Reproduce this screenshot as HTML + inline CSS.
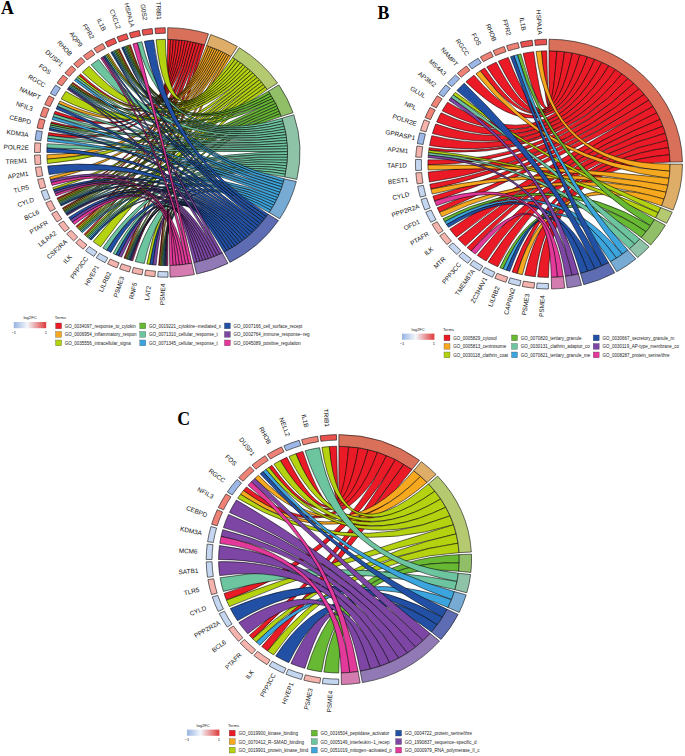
<!DOCTYPE html>
<html><head><meta charset="utf-8"><style>
html,body{margin:0;padding:0;background:#fff;width:685px;height:756px;overflow:hidden}
svg{display:block}
</style></head><body>
<svg width="685" height="756" viewBox="0 0 685 756">
<rect width="685" height="756" fill="#fff"/>
<g stroke="#000" stroke-width="0.55" stroke-linejoin="round">
<path fill="#EA1B26" d="M129.15 45.12A120.4 113.15 0 0 1 130.42 44.73Q167.25 152.45 167.67 39.3A120.4 113.15 0 0 1 170.56 39.34Q167.25 152.45 129.15 45.12Z"/>
<path fill="#EA1B26" d="M118.1 49.16A120.4 113.15 0 0 1 119.32 48.65Q167.25 152.45 170.56 39.34A120.4 113.15 0 0 1 173.45 39.45Q167.25 152.45 118.1 49.16Z"/>
<path fill="#EA1B26" d="M78.98 75.5A120.4 113.15 0 0 1 80.58 73.9Q167.25 152.45 173.45 39.45A120.4 113.15 0 0 1 176.34 39.62Q167.25 152.45 78.98 75.5Z"/>
<path fill="#EA1B26" d="M71.96 83.28A120.4 113.15 0 0 1 72.78 82.3Q167.25 152.45 176.34 39.62A120.4 113.15 0 0 1 179.22 39.86Q167.25 152.45 71.96 83.28Z"/>
<path fill="#EA1B26" d="M54.04 113.94A120.4 113.15 0 0 1 55.13 111.2Q167.25 152.45 179.22 39.86A120.4 113.15 0 0 1 182.1 40.17Q167.25 152.45 54.04 113.94Z"/>
<path fill="#EA1B26" d="M50.87 123.45A120.4 113.15 0 0 1 51.36 121.76Q167.25 152.45 182.1 40.17A120.4 113.15 0 0 1 184.97 40.53Q167.25 152.45 50.87 123.45Z"/>
<path fill="#EA1B26" d="M48.2 135.51A120.4 113.15 0 0 1 48.71 132.62Q167.25 152.45 184.97 40.53A120.4 113.15 0 0 1 187.82 40.97Q167.25 152.45 48.2 135.51Z"/>
<path fill="#EA1B26" d="M57.61 199.21A120.4 113.15 0 0 1 57.07 198.07Q167.25 152.45 187.82 40.97A120.4 113.15 0 0 1 190.67 41.46Q167.25 152.45 57.61 199.21Z"/>
<path fill="#EA1B26" d="M62.95 208.99A120.4 113.15 0 0 1 62.38 208.03Q167.25 152.45 190.67 41.46A120.4 113.15 0 0 1 193.5 42.02Q167.25 152.45 62.95 208.99Z"/>
<path fill="#EA1B26" d="M77.01 227.36A120.4 113.15 0 0 1 75.98 226.25Q167.25 152.45 193.5 42.02A120.4 113.15 0 0 1 196.32 42.65Q167.25 152.45 77.01 227.36Z"/>
<path fill="#EA1B26" d="M85.29 235.33A120.4 113.15 0 0 1 84.15 234.33Q167.25 152.45 196.32 42.65A120.4 113.15 0 0 1 199.11 43.34Q167.25 152.45 85.29 235.33Z"/>
<path fill="#EA1B26" d="M125.07 258.43A120.4 113.15 0 0 1 123.98 258.04Q167.25 152.45 199.11 43.34A120.4 113.15 0 0 1 201.9 44.09Q167.25 152.45 125.07 258.43Z"/>
<path fill="#EA1B26" d="M159.75 265.38A120.4 113.15 0 0 1 158.58 265.3Q167.25 152.45 201.9 44.09A120.4 113.15 0 0 1 204.66 44.9Q167.25 152.45 159.75 265.38Z"/>
<path fill="#F6A81F" d="M127.89 45.52A120.4 113.15 0 0 1 129.15 45.12Q167.25 152.45 206.65 45.53A120.4 113.15 0 0 1 208.76 46.24Q167.25 152.45 127.89 45.52Z"/>
<path fill="#F6A81F" d="M116.88 49.68A120.4 113.15 0 0 1 118.1 49.16Q167.25 152.45 208.76 46.24A120.4 113.15 0 0 1 210.86 46.98Q167.25 152.45 116.88 49.68Z"/>
<path fill="#F6A81F" d="M107.33 54.31A120.4 113.15 0 0 1 108.69 53.59Q167.25 152.45 210.86 46.98A120.4 113.15 0 0 1 212.94 47.76Q167.25 152.45 107.33 54.31Z"/>
<path fill="#F6A81F" d="M71.15 84.28A120.4 113.15 0 0 1 71.96 83.28Q167.25 152.45 212.94 47.76A120.4 113.15 0 0 1 215 48.58Q167.25 152.45 71.15 84.28Z"/>
<path fill="#F6A81F" d="M58.62 103.66A120.4 113.15 0 0 1 60 101.03Q167.25 152.45 215 48.58A120.4 113.15 0 0 1 217.05 49.43Q167.25 152.45 58.62 103.66Z"/>
<path fill="#F6A81F" d="M47.06 159.2A120.4 113.15 0 0 1 46.87 154.81Q167.25 152.45 217.05 49.43A120.4 113.15 0 0 1 219.09 50.32Q167.25 152.45 47.06 159.2Z"/>
<path fill="#F6A81F" d="M50.41 179.76A120.4 113.15 0 0 1 49.69 176.92Q167.25 152.45 219.09 50.32A120.4 113.15 0 0 1 221.1 51.25Q167.25 152.45 50.41 179.76Z"/>
<path fill="#F6A81F" d="M58.17 200.35A120.4 113.15 0 0 1 57.61 199.21Q167.25 152.45 221.1 51.25A120.4 113.15 0 0 1 223.09 52.21Q167.25 152.45 58.17 200.35Z"/>
<path fill="#F6A81F" d="M63.54 209.93A120.4 113.15 0 0 1 62.95 208.99Q167.25 152.45 223.09 52.21A120.4 113.15 0 0 1 225.07 53.2Q167.25 152.45 63.54 209.93Z"/>
<path fill="#F6A81F" d="M78.05 228.45A120.4 113.15 0 0 1 77.01 227.36Q167.25 152.45 225.07 53.2A120.4 113.15 0 0 1 227.03 54.23Q167.25 152.45 78.05 228.45Z"/>
<path fill="#F6A81F" d="M126.17 258.81A120.4 113.15 0 0 1 125.07 258.43Q167.25 152.45 227.03 54.23A120.4 113.15 0 0 1 228.96 55.29Q167.25 152.45 126.17 258.81Z"/>
<path fill="#F6A81F" d="M160.91 265.44A120.4 113.15 0 0 1 159.75 265.38Q167.25 152.45 228.96 55.29A120.4 113.15 0 0 1 230.88 56.39Q167.25 152.45 160.91 265.44Z"/>
<path fill="#B4D20F" d="M156.08 39.79A120.4 113.15 0 0 1 165.41 39.32Q167.25 152.45 232.65 57.45A120.4 113.15 0 0 1 235.37 59.15Q167.25 152.45 156.08 39.79Z"/>
<path fill="#B4D20F" d="M126.63 45.94A120.4 113.15 0 0 1 127.89 45.52Q167.25 152.45 235.37 59.15A120.4 113.15 0 0 1 238.03 60.92Q167.25 152.45 126.63 45.94Z"/>
<path fill="#B4D20F" d="M115.68 50.21A120.4 113.15 0 0 1 116.88 49.68Q167.25 152.45 238.03 60.92A120.4 113.15 0 0 1 240.65 62.76Q167.25 152.45 115.68 50.21Z"/>
<path fill="#B4D20F" d="M105.99 55.04A120.4 113.15 0 0 1 107.33 54.31Q167.25 152.45 240.65 62.76A120.4 113.15 0 0 1 243.21 64.66Q167.25 152.45 105.99 55.04Z"/>
<path fill="#B4D20F" d="M82.35 72.22A120.4 113.15 0 0 1 89.23 66.27Q167.25 152.45 243.21 64.66A120.4 113.15 0 0 1 245.71 66.63Q167.25 152.45 82.35 72.22Z"/>
<path fill="#B4D20F" d="M77.41 77.12A120.4 113.15 0 0 1 78.98 75.5Q167.25 152.45 245.71 66.63A120.4 113.15 0 0 1 248.16 68.66Q167.25 152.45 77.41 77.12Z"/>
<path fill="#B4D20F" d="M61.16 98.93A120.4 113.15 0 0 1 65.9 91.37Q167.25 152.45 248.16 68.66A120.4 113.15 0 0 1 250.55 70.75Q167.25 152.45 61.16 98.93Z"/>
<path fill="#B4D20F" d="M47.43 163.57A120.4 113.15 0 0 1 47.06 159.2Q167.25 152.45 250.55 70.75A120.4 113.15 0 0 1 252.87 72.9Q167.25 152.45 47.43 163.57Z"/>
<path fill="#B4D20F" d="M53.57 189.74A120.4 113.15 0 0 1 52.83 187.66Q167.25 152.45 252.87 72.9A120.4 113.15 0 0 1 255.14 75.11Q167.25 152.45 53.57 189.74Z"/>
<path fill="#B4D20F" d="M58.74 201.49A120.4 113.15 0 0 1 58.17 200.35Q167.25 152.45 255.14 75.11A120.4 113.15 0 0 1 257.33 77.38Q167.25 152.45 58.74 201.49Z"/>
<path fill="#B4D20F" d="M64.14 210.88A120.4 113.15 0 0 1 63.54 209.93Q167.25 152.45 257.33 77.38A120.4 113.15 0 0 1 259.47 79.7Q167.25 152.45 64.14 210.88Z"/>
<path fill="#B4D20F" d="M79.1 229.52A120.4 113.15 0 0 1 78.05 228.45Q167.25 152.45 259.47 79.7A120.4 113.15 0 0 1 261.53 82.08Q167.25 152.45 79.1 229.52Z"/>
<path fill="#B4D20F" d="M86.43 236.32A120.4 113.15 0 0 1 85.29 235.33Q167.25 152.45 261.53 82.08A120.4 113.15 0 0 1 263.53 84.5Q167.25 152.45 86.43 236.32Z"/>
<path fill="#B4D20F" d="M100.7 246.75A120.4 113.15 0 0 1 93.13 241.62Q167.25 152.45 263.53 84.5A120.4 113.15 0 0 1 265.45 86.98Q167.25 152.45 100.7 246.75Z"/>
<path fill="#B4D20F" d="M149.89 264.42A120.4 113.15 0 0 1 146.81 263.96Q167.25 152.45 265.45 86.98A120.4 113.15 0 0 1 267.3 89.51Q167.25 152.45 149.89 264.42Z"/>
<path fill="#67B833" d="M125.37 46.37A120.4 113.15 0 0 1 126.63 45.94Q167.25 152.45 268.46 91.16A120.4 113.15 0 0 1 270.04 93.53Q167.25 152.45 125.37 46.37Z"/>
<path fill="#67B833" d="M114.47 50.75A120.4 113.15 0 0 1 115.68 50.21Q167.25 152.45 270.04 93.53A120.4 113.15 0 0 1 271.57 95.94Q167.25 152.45 114.47 50.75Z"/>
<path fill="#67B833" d="M70.35 85.29A120.4 113.15 0 0 1 71.15 84.28Q167.25 152.45 271.57 95.94A120.4 113.15 0 0 1 273.02 98.39Q167.25 152.45 70.35 85.29Z"/>
<path fill="#67B833" d="M50.4 125.15A120.4 113.15 0 0 1 50.87 123.45Q167.25 152.45 273.02 98.39A120.4 113.15 0 0 1 274.42 100.87Q167.25 152.45 50.4 125.15Z"/>
<path fill="#67B833" d="M59.33 202.61A120.4 113.15 0 0 1 58.74 201.49Q167.25 152.45 274.42 100.87A120.4 113.15 0 0 1 275.74 103.38Q167.25 152.45 59.33 202.61Z"/>
<path fill="#67B833" d="M64.75 211.81A120.4 113.15 0 0 1 64.14 210.88Q167.25 152.45 275.74 103.38A120.4 113.15 0 0 1 277 105.92Q167.25 152.45 64.75 211.81Z"/>
<path fill="#67B833" d="M80.17 230.59A120.4 113.15 0 0 1 79.1 229.52Q167.25 152.45 277 105.92A120.4 113.15 0 0 1 278.2 108.49Q167.25 152.45 80.17 230.59Z"/>
<path fill="#67B833" d="M87.59 237.3A120.4 113.15 0 0 1 86.43 236.32Q167.25 152.45 278.2 108.49A120.4 113.15 0 0 1 279.32 111.09Q167.25 152.45 87.59 237.3Z"/>
<path fill="#67B833" d="M127.27 259.18A120.4 113.15 0 0 1 126.17 258.81Q167.25 152.45 279.32 111.09A120.4 113.15 0 0 1 280.38 113.71Q167.25 152.45 127.27 259.18Z"/>
<path fill="#67B833" d="M162.08 265.49A120.4 113.15 0 0 1 160.91 265.44Q167.25 152.45 280.38 113.71A120.4 113.15 0 0 1 281.37 116.36Q167.25 152.45 162.08 265.49Z"/>
<path fill="#6DC5A0" d="M137.33 42.85A120.4 113.15 0 0 1 141.87 41.84Q167.25 152.45 282.02 118.24A120.4 113.15 0 0 1 282.89 120.95Q167.25 152.45 137.33 42.85Z"/>
<path fill="#6DC5A0" d="M124.13 46.81A120.4 113.15 0 0 1 125.37 46.37Q167.25 152.45 282.89 120.95A120.4 113.15 0 0 1 283.7 123.67Q167.25 152.45 124.13 46.81Z"/>
<path fill="#6DC5A0" d="M113.28 51.31A120.4 113.15 0 0 1 114.47 50.75Q167.25 152.45 283.7 123.67A120.4 113.15 0 0 1 284.42 126.42Q167.25 152.45 113.28 51.31Z"/>
<path fill="#6DC5A0" d="M104.65 55.8A120.4 113.15 0 0 1 105.99 55.04Q167.25 152.45 284.42 126.42A120.4 113.15 0 0 1 285.08 129.18Q167.25 152.45 104.65 55.8Z"/>
<path fill="#6DC5A0" d="M91.16 64.76A120.4 113.15 0 0 1 98.62 59.48Q167.25 152.45 285.08 129.18A120.4 113.15 0 0 1 285.66 131.96Q167.25 152.45 91.16 64.76Z"/>
<path fill="#6DC5A0" d="M75.87 78.77A120.4 113.15 0 0 1 77.41 77.12Q167.25 152.45 285.66 131.96A120.4 113.15 0 0 1 286.17 134.75Q167.25 152.45 75.87 78.77Z"/>
<path fill="#6DC5A0" d="M69.57 86.3A120.4 113.15 0 0 1 70.35 85.29Q167.25 152.45 286.17 134.75A120.4 113.15 0 0 1 286.61 137.55Q167.25 152.45 69.57 86.3Z"/>
<path fill="#6DC5A0" d="M57.31 106.31A120.4 113.15 0 0 1 58.62 103.66Q167.25 152.45 286.61 137.55A120.4 113.15 0 0 1 286.97 140.36Q167.25 152.45 57.31 106.31Z"/>
<path fill="#6DC5A0" d="M53.01 116.7A120.4 113.15 0 0 1 54.04 113.94Q167.25 152.45 286.97 140.36A120.4 113.15 0 0 1 287.25 143.18Q167.25 152.45 53.01 116.7Z"/>
<path fill="#6DC5A0" d="M49.97 126.86A120.4 113.15 0 0 1 50.4 125.15Q167.25 152.45 287.25 143.18A120.4 113.15 0 0 1 287.46 146Q167.25 152.45 49.97 126.86Z"/>
<path fill="#6DC5A0" d="M47.78 138.41A120.4 113.15 0 0 1 48.2 135.51Q167.25 152.45 287.46 146A120.4 113.15 0 0 1 287.59 148.83Q167.25 152.45 47.78 138.41Z"/>
<path fill="#6DC5A0" d="M46.94 148.06A120.4 113.15 0 0 1 47.21 143.68Q167.25 152.45 287.59 148.83A120.4 113.15 0 0 1 287.65 151.66Q167.25 152.45 46.94 148.06Z"/>
<path fill="#6DC5A0" d="M59.92 203.73A120.4 113.15 0 0 1 59.33 202.61Q167.25 152.45 287.65 151.66A120.4 113.15 0 0 1 287.63 154.49Q167.25 152.45 59.92 203.73Z"/>
<path fill="#6DC5A0" d="M65.37 212.75A120.4 113.15 0 0 1 64.75 211.81Q167.25 152.45 287.63 154.49A120.4 113.15 0 0 1 287.54 157.32Q167.25 152.45 65.37 212.75Z"/>
<path fill="#6DC5A0" d="M81.25 231.64A120.4 113.15 0 0 1 80.17 230.59Q167.25 152.45 287.54 157.32A120.4 113.15 0 0 1 287.38 160.15Q167.25 152.45 81.25 231.64Z"/>
<path fill="#6DC5A0" d="M88.77 238.26A120.4 113.15 0 0 1 87.59 237.3Q167.25 152.45 287.38 160.15A120.4 113.15 0 0 1 287.13 162.97Q167.25 152.45 88.77 238.26Z"/>
<path fill="#6DC5A0" d="M106.81 250.31A120.4 113.15 0 0 1 102.82 248.03Q167.25 152.45 287.13 162.97A120.4 113.15 0 0 1 286.82 165.78Q167.25 152.45 106.81 250.31Z"/>
<path fill="#6DC5A0" d="M115.94 254.81A120.4 113.15 0 0 1 113.14 253.53Q167.25 152.45 286.82 165.78A120.4 113.15 0 0 1 286.42 168.59Q167.25 152.45 115.94 254.81Z"/>
<path fill="#6DC5A0" d="M128.37 259.54A120.4 113.15 0 0 1 127.27 259.18Q167.25 152.45 286.42 168.59A120.4 113.15 0 0 1 285.96 171.38Q167.25 152.45 128.37 259.54Z"/>
<path fill="#6DC5A0" d="M144.33 263.53A120.4 113.15 0 0 1 135.24 261.53Q167.25 152.45 285.96 171.38A120.4 113.15 0 0 1 285.42 174.17Q167.25 152.45 144.33 263.53Z"/>
<path fill="#6DC5A0" d="M163.25 265.54A120.4 113.15 0 0 1 162.08 265.49Q167.25 152.45 285.42 174.17A120.4 113.15 0 0 1 284.8 176.94Q167.25 152.45 163.25 265.54Z"/>
<path fill="#3DA5DD" d="M122.88 47.26A120.4 113.15 0 0 1 124.13 46.81Q167.25 152.45 284.33 178.86A120.4 113.15 0 0 1 283.59 181.6Q167.25 152.45 122.88 47.26Z"/>
<path fill="#3DA5DD" d="M112.09 51.88A120.4 113.15 0 0 1 113.28 51.31Q167.25 152.45 283.59 181.6A120.4 113.15 0 0 1 282.78 184.32Q167.25 152.45 112.09 51.88Z"/>
<path fill="#3DA5DD" d="M74.37 80.45A120.4 113.15 0 0 1 75.87 78.77Q167.25 152.45 282.78 184.32A120.4 113.15 0 0 1 281.9 187.02Q167.25 152.45 74.37 80.45Z"/>
<path fill="#3DA5DD" d="M68.79 87.32A120.4 113.15 0 0 1 69.57 86.3Q167.25 152.45 281.9 187.02A120.4 113.15 0 0 1 280.94 189.7Q167.25 152.45 68.79 87.32Z"/>
<path fill="#3DA5DD" d="M52.07 119.49A120.4 113.15 0 0 1 53.01 116.7Q167.25 152.45 280.94 189.7A120.4 113.15 0 0 1 279.92 192.36Q167.25 152.45 52.07 119.49Z"/>
<path fill="#3DA5DD" d="M49.56 128.57A120.4 113.15 0 0 1 49.97 126.86Q167.25 152.45 279.92 192.36A120.4 113.15 0 0 1 278.82 194.99Q167.25 152.45 49.56 128.57Z"/>
<path fill="#3DA5DD" d="M47.43 141.32A120.4 113.15 0 0 1 47.78 138.41Q167.25 152.45 278.82 194.99A120.4 113.15 0 0 1 277.66 197.6Q167.25 152.45 47.43 141.32Z"/>
<path fill="#3DA5DD" d="M60.54 204.85A120.4 113.15 0 0 1 59.92 203.73Q167.25 152.45 277.66 197.6A120.4 113.15 0 0 1 276.42 200.17Q167.25 152.45 60.54 204.85Z"/>
<path fill="#3DA5DD" d="M65.99 213.67A120.4 113.15 0 0 1 65.37 212.75Q167.25 152.45 276.42 200.17A120.4 113.15 0 0 1 275.12 202.72Q167.25 152.45 65.99 213.67Z"/>
<path fill="#3DA5DD" d="M82.35 232.68A120.4 113.15 0 0 1 81.25 231.64Q167.25 152.45 275.12 202.72A120.4 113.15 0 0 1 273.75 205.23Q167.25 152.45 82.35 232.68Z"/>
<path fill="#3DA5DD" d="M89.95 239.2A120.4 113.15 0 0 1 88.77 238.26Q167.25 152.45 273.75 205.23A120.4 113.15 0 0 1 272.31 207.72Q167.25 152.45 89.95 239.2Z"/>
<path fill="#3DA5DD" d="M129.48 259.89A120.4 113.15 0 0 1 128.37 259.54Q167.25 152.45 272.31 207.72A120.4 113.15 0 0 1 270.81 210.16Q167.25 152.45 129.48 259.89Z"/>
<path fill="#3DA5DD" d="M164.41 265.57A120.4 113.15 0 0 1 163.25 265.54Q167.25 152.45 270.81 210.16A120.4 113.15 0 0 1 269.25 212.58Q167.25 152.45 164.41 265.57Z"/>
<path fill="#2150A5" d="M144.34 41.37A120.4 113.15 0 0 1 153.57 40.03Q167.25 152.45 268.11 214.24A120.4 113.15 0 0 1 266.35 216.72Q167.25 152.45 144.34 41.37Z"/>
<path fill="#2150A5" d="M121.64 47.73A120.4 113.15 0 0 1 122.88 47.26Q167.25 152.45 266.35 216.72A120.4 113.15 0 0 1 264.51 219.15Q167.25 152.45 121.64 47.73Z"/>
<path fill="#2150A5" d="M110.9 52.46A120.4 113.15 0 0 1 112.09 51.88Q167.25 152.45 264.51 219.15A120.4 113.15 0 0 1 262.6 221.54Q167.25 152.45 110.9 52.46Z"/>
<path fill="#2150A5" d="M103.33 56.56A120.4 113.15 0 0 1 104.65 55.8Q167.25 152.45 262.6 221.54A120.4 113.15 0 0 1 260.63 223.87Q167.25 152.45 103.33 56.56Z"/>
<path fill="#2150A5" d="M68.03 88.35A120.4 113.15 0 0 1 68.79 87.32Q167.25 152.45 260.63 223.87A120.4 113.15 0 0 1 258.6 226.16Q167.25 152.45 68.03 88.35Z"/>
<path fill="#2150A5" d="M56.08 109A120.4 113.15 0 0 1 57.31 106.31Q167.25 152.45 258.6 226.16A120.4 113.15 0 0 1 256.5 228.4Q167.25 152.45 56.08 109Z"/>
<path fill="#2150A5" d="M49.18 130.29A120.4 113.15 0 0 1 49.56 128.57Q167.25 152.45 256.5 228.4A120.4 113.15 0 0 1 254.34 230.58Q167.25 152.45 49.18 130.29Z"/>
<path fill="#2150A5" d="M46.85 152.45A120.4 113.15 0 0 1 46.94 148.06Q167.25 152.45 254.34 230.58A120.4 113.15 0 0 1 252.11 232.71Q167.25 152.45 46.85 152.45Z"/>
<path fill="#2150A5" d="M49.17 174.6A120.4 113.15 0 0 1 47.7 165.93Q167.25 152.45 252.11 232.71A120.4 113.15 0 0 1 249.83 234.79Q167.25 152.45 49.17 174.6Z"/>
<path fill="#2150A5" d="M54.36 191.81A120.4 113.15 0 0 1 53.57 189.74Q167.25 152.45 249.83 234.79A120.4 113.15 0 0 1 247.5 236.81Q167.25 152.45 54.36 191.81Z"/>
<path fill="#2150A5" d="M61.16 205.96A120.4 113.15 0 0 1 60.54 204.85Q167.25 152.45 247.5 236.81A120.4 113.15 0 0 1 245.1 238.76Q167.25 152.45 61.16 205.96Z"/>
<path fill="#2150A5" d="M66.63 214.59A120.4 113.15 0 0 1 65.99 213.67Q167.25 152.45 245.1 238.76A120.4 113.15 0 0 1 242.65 240.66Q167.25 152.45 66.63 214.59Z"/>
<path fill="#2150A5" d="M70.52 219.83A120.4 113.15 0 0 1 68.7 217.46Q167.25 152.45 242.65 240.66A120.4 113.15 0 0 1 240.15 242.5Q167.25 152.45 70.52 219.83Z"/>
<path fill="#2150A5" d="M91.16 240.14A120.4 113.15 0 0 1 89.95 239.2Q167.25 152.45 240.15 242.5A120.4 113.15 0 0 1 237.6 244.28Q167.25 152.45 91.16 240.14Z"/>
<path fill="#2150A5" d="M110.9 252.44A120.4 113.15 0 0 1 106.81 250.31Q167.25 152.45 237.6 244.28A120.4 113.15 0 0 1 235 245.99Q167.25 152.45 110.9 252.44Z"/>
<path fill="#2150A5" d="M118.77 256.02A120.4 113.15 0 0 1 115.94 254.81Q167.25 152.45 235 245.99A120.4 113.15 0 0 1 232.35 247.63Q167.25 152.45 118.77 256.02Z"/>
<path fill="#2150A5" d="M130.59 260.22A120.4 113.15 0 0 1 129.48 259.89Q167.25 152.45 232.35 247.63A120.4 113.15 0 0 1 229.66 249.21Q167.25 152.45 130.59 260.22Z"/>
<path fill="#2150A5" d="M152.97 264.8A120.4 113.15 0 0 1 149.89 264.42Q167.25 152.45 229.66 249.21A120.4 113.15 0 0 1 226.92 250.72Q167.25 152.45 152.97 264.8Z"/>
<path fill="#2150A5" d="M165.58 265.59A120.4 113.15 0 0 1 164.41 265.57Q167.25 152.45 226.92 250.72A120.4 113.15 0 0 1 224.15 252.17Q167.25 152.45 165.58 265.59Z"/>
<path fill="#7D46A5" d="M102.01 57.35A120.4 113.15 0 0 1 103.33 56.56Q167.25 152.45 222.29 253.09A120.4 113.15 0 0 1 219.58 254.35Q167.25 152.45 102.01 57.35Z"/>
<path fill="#7D46A5" d="M67.28 89.39A120.4 113.15 0 0 1 68.03 88.35Q167.25 152.45 219.58 254.35A120.4 113.15 0 0 1 216.84 255.56Q167.25 152.45 67.28 89.39Z"/>
<path fill="#7D46A5" d="M51.2 182.59A120.4 113.15 0 0 1 50.41 179.76Q167.25 152.45 216.84 255.56A120.4 113.15 0 0 1 214.06 256.7Q167.25 152.45 51.2 182.59Z"/>
<path fill="#7D46A5" d="M55.2 193.86A120.4 113.15 0 0 1 54.36 191.81Q167.25 152.45 214.06 256.7A120.4 113.15 0 0 1 211.26 257.77Q167.25 152.45 55.2 193.86Z"/>
<path fill="#7D46A5" d="M67.27 215.5A120.4 113.15 0 0 1 66.63 214.59Q167.25 152.45 211.26 257.77A120.4 113.15 0 0 1 208.43 258.77Q167.25 152.45 67.27 215.5Z"/>
<path fill="#7D46A5" d="M72.41 222.16A120.4 113.15 0 0 1 70.52 219.83Q167.25 152.45 208.43 258.77A120.4 113.15 0 0 1 205.57 259.71Q167.25 152.45 72.41 222.16Z"/>
<path fill="#7D46A5" d="M121.63 257.16A120.4 113.15 0 0 1 118.77 256.02Q167.25 152.45 205.57 259.71A120.4 113.15 0 0 1 202.69 260.58Q167.25 152.45 121.63 257.16Z"/>
<path fill="#7D46A5" d="M131.7 260.55A120.4 113.15 0 0 1 130.59 260.22Q167.25 152.45 202.69 260.58A120.4 113.15 0 0 1 199.79 261.39Q167.25 152.45 131.7 260.55Z"/>
<path fill="#7D46A5" d="M156.07 265.11A120.4 113.15 0 0 1 152.97 264.8Q167.25 152.45 199.79 261.39A120.4 113.15 0 0 1 196.87 262.12Q167.25 152.45 156.07 265.11Z"/>
<path fill="#7D46A5" d="M166.75 265.6A120.4 113.15 0 0 1 165.58 265.59Q167.25 152.45 196.87 262.12A120.4 113.15 0 0 1 193.93 262.79Q167.25 152.45 166.75 265.6Z"/>
<path fill="#E2399A" d="M132.83 44.02A120.4 113.15 0 0 1 137.33 42.85Q167.25 152.45 191.87 263.21A120.4 113.15 0 0 1 188.75 263.78Q167.25 152.45 132.83 44.02Z"/>
<path fill="#E2399A" d="M100.71 58.15A120.4 113.15 0 0 1 102.01 57.35Q167.25 152.45 188.75 263.78A120.4 113.15 0 0 1 185.61 264.27Q167.25 152.45 100.71 58.15Z"/>
<path fill="#E2399A" d="M52.07 185.4A120.4 113.15 0 0 1 51.2 182.59Q167.25 152.45 185.61 264.27A120.4 113.15 0 0 1 182.46 264.69Q167.25 152.45 52.07 185.4Z"/>
<path fill="#E2399A" d="M56.07 195.89A120.4 113.15 0 0 1 55.2 193.86Q167.25 152.45 182.46 264.69A120.4 113.15 0 0 1 179.3 265.03Q167.25 152.45 56.07 195.89Z"/>
<path fill="#E2399A" d="M74.36 224.44A120.4 113.15 0 0 1 72.41 222.16Q167.25 152.45 179.3 265.03A120.4 113.15 0 0 1 176.13 265.29Q167.25 152.45 74.36 224.44Z"/>
<path fill="#E2399A" d="M132.82 260.87A120.4 113.15 0 0 1 131.7 260.55Q167.25 152.45 176.13 265.29A120.4 113.15 0 0 1 172.95 265.47Q167.25 152.45 132.82 260.87Z"/>
<path fill="#E2399A" d="M167.92 265.6A120.4 113.15 0 0 1 166.75 265.6Q167.25 152.45 172.95 265.47A120.4 113.15 0 0 1 169.77 265.57Q167.25 152.45 167.92 265.6Z"/>
</g>
<g stroke="#111" stroke-width="0.6">
<path fill="#D9705A" d="M167.71 27.7A132.75 124.75 0 0 1 208.49 33.87L204.66 44.9A120.4 113.15 0 0 0 167.67 39.3Z"/>
<path fill="#DEAE68" d="M210.69 34.57A132.75 124.75 0 0 1 237.4 46.54L230.88 56.39A120.4 113.15 0 0 0 206.65 45.53Z"/>
<path fill="#B5C971" d="M239.36 47.71A132.75 124.75 0 0 1 277.56 83.05L267.3 89.51A120.4 113.15 0 0 0 232.65 57.45Z"/>
<path fill="#90BF68" d="M278.84 84.87A132.75 124.75 0 0 1 293.07 112.66L281.37 116.36A120.4 113.15 0 0 0 268.46 91.16Z"/>
<path fill="#8FC3A7" d="M293.79 114.73A132.75 124.75 0 0 1 296.85 179.45L284.8 176.94A120.4 113.15 0 0 0 282.02 118.24Z"/>
<path fill="#78ABD3" d="M296.33 181.57A132.75 124.75 0 0 1 279.71 218.74L269.25 212.58A120.4 113.15 0 0 0 284.33 178.86Z"/>
<path fill="#5E6DB3" d="M278.46 220.58A132.75 124.75 0 0 1 229.98 262.39L224.15 252.17A120.4 113.15 0 0 0 268.11 214.24Z"/>
<path fill="#9179B6" d="M227.93 263.4A132.75 124.75 0 0 1 196.66 274.1L193.93 262.79A120.4 113.15 0 0 0 222.29 253.09Z"/>
<path fill="#D47CAF" d="M194.4 274.56A132.75 124.75 0 0 1 170.03 277.17L169.77 265.57A120.4 113.15 0 0 0 191.87 263.21Z"/>
<path fill="#E8514E" d="M154.94 28.24A132.75 124.75 0 0 1 165.22 27.71L165.31 33.2A126.91 119.26 0 0 0 155.48 33.7Z"/>
<path fill="#E8514E" d="M141.99 29.98A132.75 124.75 0 0 1 152.17 28.51L152.83 33.96A126.91 119.26 0 0 0 143.11 35.37Z"/>
<path fill="#E8514E" d="M129.3 32.91A132.75 124.75 0 0 1 139.27 30.5L140.5 35.87A126.91 119.26 0 0 0 130.97 38.17Z"/>
<path fill="#E8514E" d="M116.97 37A132.75 124.75 0 0 1 126.64 33.68L128.43 38.91A126.91 119.26 0 0 0 119.18 42.08Z"/>
<path fill="#E8514E" d="M105.13 42.2A132.75 124.75 0 0 1 114.41 38.01L116.73 43.05A126.91 119.26 0 0 0 107.86 47.05Z"/>
<path fill="#EE8276" d="M93.89 48.48A132.75 124.75 0 0 1 102.68 43.45L105.52 48.25A126.91 119.26 0 0 0 97.12 53.05Z"/>
<path fill="#EE8276" d="M83.36 55.77A132.75 124.75 0 0 1 91.59 49.95L94.92 54.46A126.91 119.26 0 0 0 87.05 60.02Z"/>
<path fill="#EE8276" d="M73.65 63.99A132.75 124.75 0 0 1 81.23 57.44L85.01 61.62A126.91 119.26 0 0 0 77.77 67.88Z"/>
<path fill="#EE8276" d="M64.84 73.07A132.75 124.75 0 0 1 71.7 65.85L75.9 69.66A126.91 119.26 0 0 0 69.35 76.56Z"/>
<path fill="#EE8276" d="M57.03 82.92A132.75 124.75 0 0 1 63.1 75.1L67.68 78.51A126.91 119.26 0 0 0 61.88 85.98Z"/>
<path fill="#9DB8E6" d="M50.29 93.45A132.75 124.75 0 0 1 55.51 85.11L60.42 88.07A126.91 119.26 0 0 0 55.43 96.04Z"/>
<path fill="#EE8276" d="M44.68 104.54A132.75 124.75 0 0 1 49 95.76L54.2 98.26A126.91 119.26 0 0 0 50.07 106.65Z"/>
<path fill="#EE8276" d="M40.26 116.11A132.75 124.75 0 0 1 43.64 106.97L49.08 108.97A126.91 119.26 0 0 0 45.85 117.71Z"/>
<path fill="#EE8276" d="M37.07 128.02A132.75 124.75 0 0 1 39.48 118.61L45.1 120.1A126.91 119.26 0 0 0 42.8 129.1Z"/>
<path fill="#9DB8E6" d="M35.14 140.17A132.75 124.75 0 0 1 36.55 130.59L42.3 131.55A126.91 119.26 0 0 0 40.96 140.71Z"/>
<path fill="#F4B3AC" d="M34.5 152.44A132.75 124.75 0 0 1 34.9 142.78L40.72 143.2A126.91 119.26 0 0 0 40.34 152.44Z"/>
<path fill="#F4B3AC" d="M35.14 164.72A132.75 124.75 0 0 1 34.53 155.06L40.37 154.94A126.91 119.26 0 0 0 40.96 164.18Z"/>
<path fill="#F4B3AC" d="M37.07 176.87A132.75 124.75 0 0 1 35.45 167.31L41.24 166.66A126.91 119.26 0 0 0 42.8 175.79Z"/>
<path fill="#F4B3AC" d="M40.25 188.78A132.75 124.75 0 0 1 37.64 179.42L43.34 178.24A126.91 119.26 0 0 0 45.84 187.18Z"/>
<path fill="#C4D6F0" d="M44.67 200.35A132.75 124.75 0 0 1 41.09 191.27L46.64 189.57A126.91 119.26 0 0 0 50.07 198.24Z"/>
<path fill="#F4B3AC" d="M50.28 211.44A132.75 124.75 0 0 1 45.77 202.75L51.11 200.53A126.91 119.26 0 0 0 55.43 208.85Z"/>
<path fill="#F4B3AC" d="M57.02 221.97A132.75 124.75 0 0 1 51.62 213.73L56.71 211.04A126.91 119.26 0 0 0 61.87 218.91Z"/>
<path fill="#F4B3AC" d="M64.84 231.82A132.75 124.75 0 0 1 58.6 224.12L63.38 220.97A126.91 119.26 0 0 0 69.34 228.33Z"/>
<path fill="#F4B3AC" d="M73.64 240.9A132.75 124.75 0 0 1 66.63 233.82L71.05 230.24A126.91 119.26 0 0 0 77.76 237.01Z"/>
<path fill="#F4B3AC" d="M83.35 249.13A132.75 124.75 0 0 1 75.63 242.73L79.66 238.75A126.91 119.26 0 0 0 87.04 244.87Z"/>
<path fill="#C4D6F0" d="M93.88 256.41A132.75 124.75 0 0 1 85.53 250.76L89.12 246.43A126.91 119.26 0 0 0 97.11 251.84Z"/>
<path fill="#C4D6F0" d="M105.12 262.69A132.75 124.75 0 0 1 96.21 257.84L99.34 253.2A126.91 119.26 0 0 0 107.85 257.84Z"/>
<path fill="#F4B3AC" d="M116.96 267.9A132.75 124.75 0 0 1 107.59 263.89L110.21 258.99A126.91 119.26 0 0 0 119.17 262.82Z"/>
<path fill="#F4B3AC" d="M129.29 271.99A132.75 124.75 0 0 1 119.54 268.87L121.64 263.74A126.91 119.26 0 0 0 130.96 266.73Z"/>
<path fill="#F4B3AC" d="M141.98 274.92A132.75 124.75 0 0 1 131.96 272.71L133.51 267.42A126.91 119.26 0 0 0 143.09 269.53Z"/>
<path fill="#F4B3AC" d="M154.92 276.66A132.75 124.75 0 0 1 144.72 275.39L145.71 269.98A126.91 119.26 0 0 0 155.47 271.2Z"/>
<path fill="#C4D6F0" d="M167.99 277.2A132.75 124.75 0 0 1 157.7 276.88L158.12 271.4A126.91 119.26 0 0 0 167.95 271.71Z"/>
</g>
<g font-family="Liberation Sans, sans-serif" font-size="6.4" fill="#111" text-anchor="middle">
<text transform="translate(159.08 10.69) rotate(86.9)" dy="0.4em">TRIB1</text>
<text transform="translate(144.28 12.13) rotate(81.25)" dy="0.4em">G0S2</text>
<text transform="translate(129.71 14.94) rotate(75.61)" dy="0.4em">HSPA1A</text>
<text transform="translate(115.49 19.08) rotate(69.96)" dy="0.4em">CXCL2</text>
<text transform="translate(101.78 24.51) rotate(64.32)" dy="0.4em">IL1B</text>
<text transform="translate(88.71 31.18) rotate(58.67)" dy="0.4em">FPR2</text>
<text transform="translate(76.4 39.03) rotate(53.03)" dy="0.4em">AQP9</text>
<text transform="translate(64.97 47.97) rotate(47.38)" dy="0.4em">RHOB</text>
<text transform="translate(54.53 57.94) rotate(41.74)" dy="0.4em">DUSP1</text>
<text transform="translate(45.18 68.81) rotate(36.09)" dy="0.4em">FOS</text>
<text transform="translate(37.02 80.5) rotate(30.45)" dy="0.4em">RGCC</text>
<text transform="translate(30.12 92.89) rotate(24.8)" dy="0.4em">NAMPT</text>
<text transform="translate(24.55 105.86) rotate(19.16)" dy="0.4em">NFIL3</text>
<text transform="translate(20.36 119.27) rotate(13.51)" dy="0.4em">CEBPD</text>
<text transform="translate(17.6 133.01) rotate(7.87)" dy="0.4em">KDM3A</text>
<text transform="translate(16.29 146.94) rotate(2.22)" dy="0.4em">POLR2E</text>
<text transform="translate(16.45 160.92) rotate(-3.42)" dy="0.4em">TREM1</text>
<text transform="translate(18.07 174.82) rotate(-9.06)" dy="0.4em">AP2M1</text>
<text transform="translate(21.13 188.5) rotate(-14.71)" dy="0.4em">TLR5</text>
<text transform="translate(25.61 201.83) rotate(-20.36)" dy="0.4em">CYLD</text>
<text transform="translate(31.47 214.68) rotate(-26)" dy="0.4em">BCL6</text>
<text transform="translate(38.64 226.93) rotate(-31.65)" dy="0.4em">PTAFR</text>
<text transform="translate(47.06 238.46) rotate(-37.29)" dy="0.4em">LILRA2</text>
<text transform="translate(56.65 249.15) rotate(-42.94)" dy="0.4em">CSF2RA</text>
<text transform="translate(67.31 258.91) rotate(-48.58)" dy="0.4em">ILK</text>
<text transform="translate(78.93 267.63) rotate(-54.23)" dy="0.4em">PPP3CC</text>
<text transform="translate(91.42 275.23) rotate(-59.87)" dy="0.4em">HIVEP1</text>
<text transform="translate(104.64 281.65) rotate(-65.52)" dy="0.4em">LILRB2</text>
<text transform="translate(118.47 286.81) rotate(-71.16)" dy="0.4em">PSME3</text>
<text transform="translate(132.77 290.67) rotate(-76.81)" dy="0.4em">RNF5</text>
<text transform="translate(147.4 293.18) rotate(-82.45)" dy="0.4em">LAT2</text>
<text transform="translate(162.23 294.34) rotate(-88.09)" dy="0.4em">PSME4</text>
</g>
<g stroke="#000" stroke-width="0.55" stroke-linejoin="round">
<path fill="#EA1B26" d="M541.4 51.04A121.08 113.28 0 0 1 546.78 50.83Q549 164.1 549 50.82A121.08 113.28 0 0 1 556.83 51.05Q549 164.1 541.4 51.04Z"/>
<path fill="#EA1B26" d="M523.1 53.44A121.08 113.28 0 0 1 533.72 51.72Q549 164.1 556.83 51.05A121.08 113.28 0 0 1 564.63 51.76Q549 164.1 523.1 53.44Z"/>
<path fill="#EA1B26" d="M498.31 61.22A121.08 113.28 0 0 1 508.28 57.41Q549 164.1 564.63 51.76A121.08 113.28 0 0 1 572.36 52.94Q549 164.1 498.31 61.22Z"/>
<path fill="#EA1B26" d="M486.73 66.95A121.08 113.28 0 0 1 496.21 62.15Q549 164.1 572.36 52.94A121.08 113.28 0 0 1 580 54.59Q549 164.1 486.73 66.95Z"/>
<path fill="#EA1B26" d="M480.24 70.85A121.08 113.28 0 0 1 484.75 68.08Q549 164.1 580 54.59A121.08 113.28 0 0 1 587.5 56.7Q549 164.1 480.24 70.85Z"/>
<path fill="#EA1B26" d="M465.88 81.72A121.08 113.28 0 0 1 474.04 75.14Q549 164.1 587.5 56.7A121.08 113.28 0 0 1 594.85 59.25Q549 164.1 465.88 81.72Z"/>
<path fill="#EA1B26" d="M442.14 110.83A121.08 113.28 0 0 1 447.62 102.15Q549 164.1 594.85 59.25A121.08 113.28 0 0 1 602 62.24Q549 164.1 442.14 110.83Z"/>
<path fill="#EA1B26" d="M436.61 121.94A121.08 113.28 0 0 1 441.06 112.76Q549 164.1 602 62.24A121.08 113.28 0 0 1 608.93 65.67Q549 164.1 436.61 121.94Z"/>
<path fill="#EA1B26" d="M432.4 133.54A121.08 113.28 0 0 1 435.77 123.96Q549 164.1 608.93 65.67A121.08 113.28 0 0 1 615.61 69.5Q549 164.1 432.4 133.54Z"/>
<path fill="#EA1B26" d="M429.56 145.5A121.08 113.28 0 0 1 431.8 135.64Q549 164.1 615.61 69.5A121.08 113.28 0 0 1 622.01 73.73Q549 164.1 429.56 145.5Z"/>
<path fill="#EA1B26" d="M428.84 150.15A121.08 113.28 0 0 1 429.2 147.65Q549 164.1 622.01 73.73A121.08 113.28 0 0 1 628.11 78.33Q549 164.1 428.84 150.15Z"/>
<path fill="#EA1B26" d="M427.92 164.89A121.08 113.28 0 0 1 428 159.85Q549 164.1 628.11 78.33A121.08 113.28 0 0 1 633.87 83.3Q549 164.1 427.92 164.89Z"/>
<path fill="#EA1B26" d="M429.46 182.11A121.08 113.28 0 0 1 428.22 172.1Q549 164.1 633.87 83.3A121.08 113.28 0 0 1 639.28 88.6Q549 164.1 429.46 182.11Z"/>
<path fill="#EA1B26" d="M430.92 189.2A121.08 113.28 0 0 1 429.85 184.26Q549 164.1 639.28 88.6A121.08 113.28 0 0 1 644.31 94.23Q549 164.1 430.92 189.2Z"/>
<path fill="#EA1B26" d="M434.51 200.98A121.08 113.28 0 0 1 432.87 196.18Q549 164.1 644.31 94.23A121.08 113.28 0 0 1 648.94 100.14Q549 164.1 434.51 200.98Z"/>
<path fill="#EA1B26" d="M439.44 212.33A121.08 113.28 0 0 1 437.25 207.73Q549 164.1 648.94 100.14A121.08 113.28 0 0 1 653.15 106.32Q549 164.1 439.44 212.33Z"/>
<path fill="#EA1B26" d="M456.45 237.14A121.08 113.28 0 0 1 449.87 229.16Q549 164.1 653.15 106.32A121.08 113.28 0 0 1 656.93 112.74Q549 164.1 456.45 237.14Z"/>
<path fill="#EA1B26" d="M465.42 246.07A121.08 113.28 0 0 1 457.96 238.79Q549 164.1 656.93 112.74A121.08 113.28 0 0 1 660.25 119.38Q549 164.1 465.42 246.07Z"/>
<path fill="#EA1B26" d="M471.17 250.88A121.08 113.28 0 0 1 467.12 247.56Q549 164.1 660.25 119.38A121.08 113.28 0 0 1 663.11 126.21Q549 164.1 471.17 250.88Z"/>
<path fill="#EA1B26" d="M486.18 260.95A121.08 113.28 0 0 1 477.23 255.34Q549 164.1 663.11 126.21A121.08 113.28 0 0 1 665.49 133.19Q549 164.1 486.18 260.95Z"/>
<path fill="#EA1B26" d="M497.73 266.73A121.08 113.28 0 0 1 488.18 262.06Q549 164.1 665.49 133.19A121.08 113.28 0 0 1 667.38 140.31Q549 164.1 497.73 266.73Z"/>
<path fill="#EA1B26" d="M517.25 273.42A121.08 113.28 0 0 1 512.09 271.99Q549 164.1 667.38 140.31A121.08 113.28 0 0 1 668.78 147.52Q549 164.1 517.25 273.42Z"/>
<path fill="#EA1B26" d="M535.4 276.67A121.08 113.28 0 0 1 524.76 275.09Q549 164.1 668.78 147.52A121.08 113.28 0 0 1 669.68 154.8Q549 164.1 535.4 276.67Z"/>
<path fill="#EA1B26" d="M548.47 277.38A121.08 113.28 0 0 1 537.71 276.89Q549 164.1 669.68 154.8A121.08 113.28 0 0 1 670.07 162.12Q549 164.1 548.47 277.38Z"/>
<path fill="#F6A81F" d="M536.03 51.47A121.08 113.28 0 0 1 541.4 51.04Q549 164.1 670.08 164.1A121.08 113.28 0 0 1 669.85 171.21Q549 164.1 536.03 51.47Z"/>
<path fill="#F6A81F" d="M475.88 73.81A121.08 113.28 0 0 1 480.24 70.85Q549 164.1 669.85 171.21A121.08 113.28 0 0 1 669.13 178.3Q549 164.1 475.88 73.81Z"/>
<path fill="#F6A81F" d="M428.08 169.93A121.08 113.28 0 0 1 427.92 164.89Q549 164.1 669.13 178.3A121.08 113.28 0 0 1 667.94 185.33Q549 164.1 428.08 169.93Z"/>
<path fill="#F6A81F" d="M432.23 194.09A121.08 113.28 0 0 1 430.92 189.2Q549 164.1 667.94 185.33A121.08 113.28 0 0 1 666.28 192.27Q549 164.1 432.23 194.09Z"/>
<path fill="#F6A81F" d="M441.84 216.85A121.08 113.28 0 0 1 439.44 212.33Q549 164.1 666.28 192.27A121.08 113.28 0 0 1 664.16 199.11Q549 164.1 441.84 216.85Z"/>
<path fill="#F6A81F" d="M522.48 274.63A121.08 113.28 0 0 1 517.25 273.42Q549 164.1 664.16 199.11A121.08 113.28 0 0 1 661.58 205.8Q549 164.1 522.48 274.63Z"/>
<path fill="#B4D20F" d="M453.13 94.9A121.08 113.28 0 0 1 455.37 92.27Q549 164.1 660.79 207.63A121.08 113.28 0 0 1 658.33 212.78Q549 164.1 453.13 94.9Z"/>
<path fill="#B4D20F" d="M428.54 152.65A121.08 113.28 0 0 1 428.84 150.15Q549 164.1 658.33 212.78A121.08 113.28 0 0 1 655.61 217.81Q549 164.1 428.54 152.65Z"/>
<path fill="#67B833" d="M517.35 54.75A121.08 113.28 0 0 1 520.84 53.92Q549 164.1 654.59 219.54A121.08 113.28 0 0 1 650.55 225.8Q549 164.1 517.35 54.75Z"/>
<path fill="#67B833" d="M444.72 221.68A121.08 113.28 0 0 1 442.94 218.76Q549 164.1 650.55 225.8A121.08 113.28 0 0 1 646.08 231.8Q549 164.1 444.72 221.68Z"/>
<path fill="#67B833" d="M503.15 268.95A121.08 113.28 0 0 1 499.85 267.63Q549 164.1 646.08 231.8A121.08 113.28 0 0 1 641.21 237.52Q549 164.1 503.15 268.95Z"/>
<path fill="#6DC5A0" d="M450.98 97.59A121.08 113.28 0 0 1 453.13 94.9Q549 164.1 639.83 239.02A121.08 113.28 0 0 1 634.77 244.06Q549 164.1 450.98 97.59Z"/>
<path fill="#6DC5A0" d="M428.29 155.16A121.08 113.28 0 0 1 428.54 152.65Q549 164.1 634.77 244.06A121.08 113.28 0 0 1 629.39 248.81Q549 164.1 428.29 155.16Z"/>
<path fill="#3DA5DD" d="M513.9 55.68A121.08 113.28 0 0 1 517.35 54.75Q549 164.1 627.8 250.11A121.08 113.28 0 0 1 622.26 254.29Q549 164.1 513.9 55.68Z"/>
<path fill="#3DA5DD" d="M446.6 224.55A121.08 113.28 0 0 1 444.72 221.68Q549 164.1 622.26 254.29A121.08 113.28 0 0 1 616.48 258.16Q549 164.1 446.6 224.55Z"/>
<path fill="#3DA5DD" d="M506.5 270.18A121.08 113.28 0 0 1 503.15 268.95Q549 164.1 616.48 258.16A121.08 113.28 0 0 1 610.46 261.71Q549 164.1 506.5 270.18Z"/>
<path fill="#2150A5" d="M510.48 56.7A121.08 113.28 0 0 1 513.9 55.68Q549 164.1 608.62 262.7A121.08 113.28 0 0 1 601.89 266.01Q549 164.1 510.48 56.7Z"/>
<path fill="#2150A5" d="M456.86 90.6A121.08 113.28 0 0 1 464.21 83.23Q549 164.1 601.89 266.01A121.08 113.28 0 0 1 594.95 268.91Q549 164.1 456.86 90.6Z"/>
<path fill="#2150A5" d="M448.56 227.37A121.08 113.28 0 0 1 446.6 224.55Q549 164.1 594.95 268.91A121.08 113.28 0 0 1 587.82 271.4Q549 164.1 448.56 227.37Z"/>
<path fill="#2150A5" d="M509.88 271.31A121.08 113.28 0 0 1 506.5 270.18Q549 164.1 587.82 271.4A121.08 113.28 0 0 1 580.54 273.47Q549 164.1 509.88 271.31Z"/>
<path fill="#7D46A5" d="M448.91 100.34A121.08 113.28 0 0 1 450.98 97.59Q549 164.1 578.5 273.97A121.08 113.28 0 0 1 572 275.32Q549 164.1 448.91 100.34Z"/>
<path fill="#7D46A5" d="M428.11 157.68A121.08 113.28 0 0 1 428.29 155.16Q549 164.1 572 275.32A121.08 113.28 0 0 1 565.43 276.34Q549 164.1 428.11 157.68Z"/>
<path fill="#E2399A" d="M436.38 205.71A121.08 113.28 0 0 1 434.51 200.98Q549 164.1 563.34 276.59A121.08 113.28 0 0 1 557.34 277.12Q549 164.1 436.38 205.71Z"/>
<path fill="#E2399A" d="M475.37 254.03A121.08 113.28 0 0 1 471.17 250.88Q549 164.1 557.34 277.12A121.08 113.28 0 0 1 551.32 277.36Q549 164.1 475.37 254.03Z"/>
</g>
<g stroke="#111" stroke-width="0.6">
<path fill="#D9705A" d="M549 39.2A133.5 124.9 0 0 1 682.48 161.92L670.07 162.12A121.08 113.28 0 0 0 549 50.82Z"/>
<path fill="#DEAE68" d="M682.5 164.1A133.5 124.9 0 0 1 673.13 210.08L661.58 205.8A121.08 113.28 0 0 0 670.08 164.1Z"/>
<path fill="#B5C971" d="M672.25 212.1A133.5 124.9 0 0 1 666.54 223.31L655.61 217.81A121.08 113.28 0 0 0 660.79 207.63Z"/>
<path fill="#90BF68" d="M665.42 225.22A133.5 124.9 0 0 1 650.67 245.05L641.21 237.52A121.08 113.28 0 0 0 654.59 219.54Z"/>
<path fill="#8FC3A7" d="M649.14 246.7A133.5 124.9 0 0 1 637.63 257.5L629.39 248.81A121.08 113.28 0 0 0 639.83 239.02Z"/>
<path fill="#78ABD3" d="M635.88 258.93A133.5 124.9 0 0 1 616.76 271.72L610.46 261.71A121.08 113.28 0 0 0 627.8 250.11Z"/>
<path fill="#5E6DB3" d="M614.74 272.81A133.5 124.9 0 0 1 583.78 284.69L580.54 273.47A121.08 113.28 0 0 0 608.62 262.7Z"/>
<path fill="#9179B6" d="M581.52 285.24A133.5 124.9 0 0 1 567.12 287.84L565.43 276.34A121.08 113.28 0 0 0 578.5 273.97Z"/>
<path fill="#D47CAF" d="M564.81 288.12A133.5 124.9 0 0 1 551.56 288.98L551.32 277.36A121.08 113.28 0 0 0 563.34 276.59Z"/>
<path fill="#E8514E" d="M534.7 39.92A133.5 124.9 0 0 1 546.55 39.22L546.66 44.72A127.63 119.4 0 0 0 535.33 45.38Z"/>
<path fill="#E8514E" d="M520.45 42.09A133.5 124.9 0 0 1 532.15 40.2L532.89 45.65A127.63 119.4 0 0 0 521.7 47.46Z"/>
<path fill="#EE8276" d="M506.53 45.69A133.5 124.9 0 0 1 517.95 42.63L519.31 47.97A127.63 119.4 0 0 0 508.4 50.9Z"/>
<path fill="#EE8276" d="M493.11 50.67A133.5 124.9 0 0 1 504.11 46.47L506.08 51.65A127.63 119.4 0 0 0 495.57 55.66Z"/>
<path fill="#EE8276" d="M480.34 56.98A133.5 124.9 0 0 1 490.79 51.7L493.35 56.64A127.63 119.4 0 0 0 483.36 61.7Z"/>
<path fill="#9DB8E6" d="M468.38 64.55A133.5 124.9 0 0 1 478.16 58.24L481.27 62.89A127.63 119.4 0 0 0 471.93 68.93Z"/>
<path fill="#EE8276" d="M457.36 73.28A133.5 124.9 0 0 1 466.35 66.01L469.99 70.33A127.63 119.4 0 0 0 461.39 77.27Z"/>
<path fill="#9DB8E6" d="M447.41 83.07A133.5 124.9 0 0 1 455.51 74.94L459.63 78.86A127.63 119.4 0 0 0 451.88 86.63Z"/>
<path fill="#9DB8E6" d="M438.65 93.81A133.5 124.9 0 0 1 445.77 84.91L450.31 88.39A127.63 119.4 0 0 0 443.51 96.9Z"/>
<path fill="#EE8276" d="M431.18 105.37A133.5 124.9 0 0 1 437.23 95.8L442.15 98.81A127.63 119.4 0 0 0 436.37 107.95Z"/>
<path fill="#EE8276" d="M425.09 117.61A133.5 124.9 0 0 1 430 107.49L435.23 109.98A127.63 119.4 0 0 0 430.54 119.66Z"/>
<path fill="#F4B3AC" d="M420.45 130.41A133.5 124.9 0 0 1 424.16 119.85L429.65 121.8A127.63 119.4 0 0 0 426.11 131.89Z"/>
<path fill="#9DB8E6" d="M417.31 143.59A133.5 124.9 0 0 1 419.78 132.72L425.47 134.1A127.63 119.4 0 0 0 423.11 144.5Z"/>
<path fill="#F4B3AC" d="M415.71 157.02A133.5 124.9 0 0 1 416.92 145.96L422.73 146.76A127.63 119.4 0 0 0 421.58 157.33Z"/>
<path fill="#C4D6F0" d="M415.68 170.53A133.5 124.9 0 0 1 415.59 159.41L421.46 159.62A127.63 119.4 0 0 0 421.54 170.25Z"/>
<path fill="#F4B3AC" d="M417.2 183.96A133.5 124.9 0 0 1 415.83 172.92L421.69 172.53A127.63 119.4 0 0 0 423 183.09Z"/>
<path fill="#C4D6F0" d="M420.26 197.16A133.5 124.9 0 0 1 417.63 186.33L423.41 185.35A127.63 119.4 0 0 0 425.93 195.71Z"/>
<path fill="#C4D6F0" d="M424.83 209.98A133.5 124.9 0 0 1 420.96 199.47L426.6 197.91A127.63 119.4 0 0 0 430.3 207.96Z"/>
<path fill="#C4D6F0" d="M430.85 222.26A133.5 124.9 0 0 1 425.8 212.2L431.22 210.08A127.63 119.4 0 0 0 436.05 219.7Z"/>
<path fill="#F4B3AC" d="M438.26 233.85A133.5 124.9 0 0 1 432.07 224.37L437.21 221.71A127.63 119.4 0 0 0 443.13 230.78Z"/>
<path fill="#F4B3AC" d="M446.96 244.63A133.5 124.9 0 0 1 439.71 235.83L444.52 232.67A127.63 119.4 0 0 0 451.45 241.09Z"/>
<path fill="#C4D6F0" d="M456.85 254.47A133.5 124.9 0 0 1 448.63 246.45L453.05 242.83A127.63 119.4 0 0 0 460.91 250.5Z"/>
<path fill="#C4D6F0" d="M467.82 263.26A133.5 124.9 0 0 1 458.72 256.11L462.7 252.06A127.63 119.4 0 0 0 471.39 258.89Z"/>
<path fill="#C4D6F0" d="M479.74 270.88A133.5 124.9 0 0 1 469.87 264.7L473.35 260.27A127.63 119.4 0 0 0 482.79 266.18Z"/>
<path fill="#C4D6F0" d="M492.47 277.25A133.5 124.9 0 0 1 481.95 272.1L484.9 267.35A127.63 119.4 0 0 0 494.96 272.27Z"/>
<path fill="#F4B3AC" d="M505.87 282.3A133.5 124.9 0 0 1 494.81 278.25L497.19 273.22A127.63 119.4 0 0 0 507.77 277.1Z"/>
<path fill="#C4D6F0" d="M519.76 285.97A133.5 124.9 0 0 1 508.3 283.05L510.09 277.82A127.63 119.4 0 0 0 521.05 280.61Z"/>
<path fill="#F4B3AC" d="M534 288.21A133.5 124.9 0 0 1 522.27 286.47L523.45 281.09A127.63 119.4 0 0 0 534.66 282.75Z"/>
<path fill="#C4D6F0" d="M548.42 289A133.5 124.9 0 0 1 536.55 288.46L537.1 282.98A127.63 119.4 0 0 0 548.44 283.5Z"/>
</g>
<g font-family="Liberation Sans, sans-serif" font-size="6.4" fill="#111" text-anchor="middle">
<text transform="translate(539.46 22.24) rotate(86.4)" dy="0.4em">HSPA1A</text>
<text transform="translate(523.14 24.04) rotate(80.2)" dy="0.4em">IL1B</text>
<text transform="translate(507.12 27.47) rotate(74)" dy="0.4em">FPR2</text>
<text transform="translate(491.6 32.5) rotate(67.8)" dy="0.4em">RHOB</text>
<text transform="translate(476.74 39.07) rotate(61.6)" dy="0.4em">FOS</text>
<text transform="translate(462.73 47.1) rotate(55.4)" dy="0.4em">RGCC</text>
<text transform="translate(449.73 56.5) rotate(49.2)" dy="0.4em">NAMPT</text>
<text transform="translate(437.89 67.16) rotate(43)" dy="0.4em">MS4A3</text>
<text transform="translate(427.35 78.96) rotate(36.8)" dy="0.4em">AP3M2</text>
<text transform="translate(418.23 91.75) rotate(30.6)" dy="0.4em">GLUL</text>
<text transform="translate(410.65 105.38) rotate(24.4)" dy="0.4em">NPL</text>
<text transform="translate(404.68 119.71) rotate(18.2)" dy="0.4em">POLR2E</text>
<text transform="translate(400.4 134.55) rotate(12)" dy="0.4em">GPRASP1</text>
<text transform="translate(397.85 149.74) rotate(5.8)" dy="0.4em">AP2M1</text>
<text transform="translate(397.08 165.09) rotate(-0.4)" dy="0.4em">TAF1D</text>
<text transform="translate(398.08 180.44) rotate(-6.6)" dy="0.4em">BEST1</text>
<text transform="translate(400.85 195.59) rotate(-12.8)" dy="0.4em">CYLD</text>
<text transform="translate(405.35 210.38) rotate(-19)" dy="0.4em">PPP2R2A</text>
<text transform="translate(411.54 224.62) rotate(-25.2)" dy="0.4em">OFD1</text>
<text transform="translate(419.33 238.15) rotate(-31.4)" dy="0.4em">PTAFR</text>
<text transform="translate(428.63 250.82) rotate(-37.6)" dy="0.4em">ILK</text>
<text transform="translate(439.35 262.48) rotate(-43.8)" dy="0.4em">MTR</text>
<text transform="translate(451.35 272.98) rotate(-50)" dy="0.4em">PPP3CC</text>
<text transform="translate(464.49 282.21) rotate(-56.2)" dy="0.4em">TMEM87A</text>
<text transform="translate(478.61 290.06) rotate(-62.4)" dy="0.4em">ZC3HAV1</text>
<text transform="translate(493.57 296.44) rotate(-68.6)" dy="0.4em">LILRB2</text>
<text transform="translate(509.17 301.26) rotate(-74.8)" dy="0.4em">CAPRIN2</text>
<text transform="translate(525.23 304.49) rotate(-81)" dy="0.4em">PSME3</text>
<text transform="translate(541.58 306.07) rotate(-87.2)" dy="0.4em">PSME4</text>
</g>
<g stroke="#000" stroke-width="0.55" stroke-linejoin="round">
<path fill="#EA1B26" d="M329.25 446.59A120.36 113.38 0 0 1 336.67 446.24Q338.9 559.6 338.9 446.23A120.36 113.38 0 0 1 348.71 446.6Q338.9 559.6 329.25 446.59Z"/>
<path fill="#EA1B26" d="M295.85 453.73A120.36 113.38 0 0 1 302.87 451.42Q338.9 559.6 348.71 446.6A120.36 113.38 0 0 1 358.45 447.73Q338.9 559.6 295.85 453.73Z"/>
<path fill="#EA1B26" d="M280.29 460.57A120.36 113.38 0 0 1 286.89 457.35Q338.9 559.6 358.45 447.73A120.36 113.38 0 0 1 368.07 449.6Q338.9 559.6 280.29 460.57Z"/>
<path fill="#EA1B26" d="M268.92 467.36A120.36 113.38 0 0 1 271.98 465.37Q338.9 559.6 368.07 449.6A120.36 113.38 0 0 1 377.49 452.21Q338.9 559.6 268.92 467.36Z"/>
<path fill="#EA1B26" d="M243.41 490.58A120.36 113.38 0 0 1 246.51 486.94Q338.9 559.6 377.49 452.21A120.36 113.38 0 0 1 386.65 455.53Q338.9 559.6 243.41 490.58Z"/>
<path fill="#EA1B26" d="M226.49 600.12A120.36 113.38 0 0 1 224.05 593.5Q338.9 559.6 386.65 455.53A120.36 113.38 0 0 1 395.5 459.54Q338.9 559.6 226.49 600.12Z"/>
<path fill="#EA1B26" d="M252.76 638.78A120.36 113.38 0 0 1 249.37 635.37Q338.9 559.6 395.5 459.54A120.36 113.38 0 0 1 403.97 464.22Q338.9 559.6 252.76 638.78Z"/>
<path fill="#EA1B26" d="M267.58 650.93A120.36 113.38 0 0 1 261.73 646.6Q338.9 559.6 403.97 464.22A120.36 113.38 0 0 1 412 469.53Q338.9 559.6 267.58 650.93Z"/>
<path fill="#F6A81F" d="M254.81 478.49A120.36 113.38 0 0 1 258.43 475.29Q338.9 559.6 413.66 470.75A120.36 113.38 0 0 1 420.6 476.35Q338.9 559.6 254.81 478.49Z"/>
<path fill="#F6A81F" d="M240.48 494.34A120.36 113.38 0 0 1 243.41 490.58Q338.9 559.6 420.6 476.35A120.36 113.38 0 0 1 427.07 482.42Q338.9 559.6 240.48 494.34Z"/>
<path fill="#B4D20F" d="M321.86 447.37A120.36 113.38 0 0 1 329.25 446.59Q338.9 559.6 428.48 483.88A120.36 113.38 0 0 1 434.9 491.21Q338.9 559.6 321.86 447.37Z"/>
<path fill="#B4D20F" d="M288.99 456.43A120.36 113.38 0 0 1 295.85 453.73Q338.9 559.6 434.9 491.21A120.36 113.38 0 0 1 440.63 499.02Q338.9 559.6 288.99 456.43Z"/>
<path fill="#B4D20F" d="M273.91 464.17A120.36 113.38 0 0 1 280.29 460.57Q338.9 559.6 440.63 499.02A120.36 113.38 0 0 1 445.66 507.25Q338.9 559.6 273.91 464.17Z"/>
<path fill="#B4D20F" d="M265.93 469.44A120.36 113.38 0 0 1 268.92 467.36Q338.9 559.6 445.66 507.25A120.36 113.38 0 0 1 449.94 515.85Q338.9 559.6 265.93 469.44Z"/>
<path fill="#B4D20F" d="M237.71 498.22A120.36 113.38 0 0 1 240.48 494.34Q338.9 559.6 449.94 515.85A120.36 113.38 0 0 1 453.43 524.75Q338.9 559.6 237.71 498.22Z"/>
<path fill="#B4D20F" d="M229.36 606.58A120.36 113.38 0 0 1 226.49 600.12Q338.9 559.6 453.43 524.75A120.36 113.38 0 0 1 456.13 533.9Q338.9 559.6 229.36 606.58Z"/>
<path fill="#B4D20F" d="M256.29 642.06A120.36 113.38 0 0 1 252.76 638.78Q338.9 559.6 456.13 533.9A120.36 113.38 0 0 1 458 543.23Q338.9 559.6 256.29 642.06Z"/>
<path fill="#B4D20F" d="M273.7 654.9A120.36 113.38 0 0 1 267.58 650.93Q338.9 559.6 458 543.23A120.36 113.38 0 0 1 459.03 552.68Q338.9 559.6 273.7 654.9Z"/>
<path fill="#67B833" d="M321.61 671.8A120.36 113.38 0 0 1 307.06 668.94Q338.9 559.6 459.14 554.65A120.36 113.38 0 0 1 459.21 562.96Q338.9 559.6 321.61 671.8Z"/>
<path fill="#67B833" d="M338.73 672.97A120.36 113.38 0 0 1 323.9 672.09Q338.9 559.6 459.21 562.96A120.36 113.38 0 0 1 458.62 571.25Q338.9 559.6 338.73 672.97Z"/>
<path fill="#6DC5A0" d="M305.08 450.79A120.36 113.38 0 0 1 319.57 447.7Q338.9 559.6 458.39 573.22A120.36 113.38 0 0 1 456.99 581.52Q338.9 559.6 305.08 450.79Z"/>
<path fill="#6DC5A0" d="M223.38 591.42A120.36 113.38 0 0 1 220.1 577.77Q338.9 559.6 456.99 581.52A120.36 113.38 0 0 1 454.94 589.71Q338.9 559.6 223.38 591.42Z"/>
<path fill="#3DA5DD" d="M263.01 471.6A120.36 113.38 0 0 1 265.93 469.44Q338.9 559.6 454.36 591.61A120.36 113.38 0 0 1 451.49 599.68Q338.9 559.6 263.01 471.6Z"/>
<path fill="#3DA5DD" d="M259.97 645.19A120.36 113.38 0 0 1 256.29 642.06Q338.9 559.6 451.49 599.68A120.36 113.38 0 0 1 447.98 607.51Q338.9 559.6 259.97 645.19Z"/>
<path fill="#2150A5" d="M260.16 473.85A120.36 113.38 0 0 1 263.01 471.6Q338.9 559.6 447.08 609.3A120.36 113.38 0 0 1 442.53 617.26Q338.9 559.6 260.16 473.85Z"/>
<path fill="#2150A5" d="M237.57 620.78A120.36 113.38 0 0 1 230.34 608.55Q338.9 559.6 442.53 617.26A120.36 113.38 0 0 1 437.33 624.85Q338.9 559.6 237.57 620.78Z"/>
<path fill="#2150A5" d="M288.76 662.67A120.36 113.38 0 0 1 275.65 656.06Q338.9 559.6 437.33 624.85A120.36 113.38 0 0 1 431.5 632.02Q338.9 559.6 288.76 662.67Z"/>
<path fill="#7D46A5" d="M251.33 481.82A120.36 113.38 0 0 1 254.81 478.49Q338.9 559.6 430.15 633.53A120.36 113.38 0 0 1 423.13 640.59Q338.9 559.6 251.33 481.82Z"/>
<path fill="#7D46A5" d="M229.47 512.4A120.36 113.38 0 0 1 236.48 500.06Q338.9 559.6 423.13 640.59A120.36 113.38 0 0 1 415.5 647.05Q338.9 559.6 229.47 512.4Z"/>
<path fill="#7D46A5" d="M223.45 527.55A120.36 113.38 0 0 1 228.52 514.39Q338.9 559.6 415.5 647.05A120.36 113.38 0 0 1 407.31 652.88Q338.9 559.6 223.45 527.55Z"/>
<path fill="#7D46A5" d="M221.08 536.45A120.36 113.38 0 0 1 222.82 529.65Q338.9 559.6 407.31 652.88A120.36 113.38 0 0 1 398.62 658.03Q338.9 559.6 221.08 536.45Z"/>
<path fill="#7D46A5" d="M218.54 559.48A120.36 113.38 0 0 1 219.47 545.51Q338.9 559.6 398.62 658.03A120.36 113.38 0 0 1 389.5 662.47Q338.9 559.6 218.54 559.48Z"/>
<path fill="#7D46A5" d="M219.75 575.61A120.36 113.38 0 0 1 218.56 561.66Q338.9 559.6 389.5 662.47A120.36 113.38 0 0 1 380.02 666.15Q338.9 559.6 219.75 575.61Z"/>
<path fill="#7D46A5" d="M247.84 633.74A120.36 113.38 0 0 1 238.84 622.6Q338.9 559.6 380.02 666.15A120.36 113.38 0 0 1 370.23 669.07Q338.9 559.6 247.84 633.74Z"/>
<path fill="#7D46A5" d="M304.84 668.34A120.36 113.38 0 0 1 290.87 663.56Q338.9 559.6 370.23 669.07A120.36 113.38 0 0 1 360.21 671.18Q338.9 559.6 304.84 668.34Z"/>
<path fill="#E2399A" d="M248.01 485.28A120.36 113.38 0 0 1 251.33 481.82Q338.9 559.6 358.14 671.52A120.36 113.38 0 0 1 349.7 672.52Q338.9 559.6 248.01 485.28Z"/>
<path fill="#E2399A" d="M219.78 543.35A120.36 113.38 0 0 1 221.08 536.45Q338.9 559.6 349.7 672.52A120.36 113.38 0 0 1 341.21 672.95Q338.9 559.6 219.78 543.35Z"/>
</g>
<g stroke="#111" stroke-width="0.6">
<path fill="#D9705A" d="M338.9 434.6A132.7 125 0 0 1 419.5 460.3L412 469.53A120.36 113.38 0 0 0 338.9 446.23Z"/>
<path fill="#DEAE68" d="M421.33 461.64A132.7 125 0 0 1 436.11 474.51L427.07 482.42A120.36 113.38 0 0 0 413.66 470.75Z"/>
<path fill="#B5C971" d="M437.67 476.12A132.7 125 0 0 1 471.35 551.97L459.03 552.68A120.36 113.38 0 0 0 428.48 483.88Z"/>
<path fill="#90BF68" d="M471.47 554.15A132.7 125 0 0 1 470.9 572.45L458.62 571.25A120.36 113.38 0 0 0 459.14 554.65Z"/>
<path fill="#8FC3A7" d="M470.64 574.62A132.7 125 0 0 1 466.84 592.79L454.94 589.71A120.36 113.38 0 0 0 458.39 573.22Z"/>
<path fill="#78ABD3" d="M466.2 594.89A132.7 125 0 0 1 459.17 612.43L447.98 607.51A120.36 113.38 0 0 0 454.36 591.61Z"/>
<path fill="#5E6DB3" d="M458.17 614.4A132.7 125 0 0 1 441 639.45L431.5 632.02A120.36 113.38 0 0 0 447.08 609.3Z"/>
<path fill="#9179B6" d="M439.5 641.11A132.7 125 0 0 1 362.4 682.62L360.21 671.18A120.36 113.38 0 0 0 430.15 633.53Z"/>
<path fill="#D47CAF" d="M360.12 682.99A132.7 125 0 0 1 341.45 684.58L341.21 672.95A120.36 113.38 0 0 0 358.14 671.52Z"/>
<path fill="#E8514E" d="M320.11 435.86A132.7 125 0 0 1 336.45 434.62L336.55 440.12A126.86 119.5 0 0 0 320.94 441.3Z"/>
<path fill="#EE8276" d="M301.61 439.64A132.7 125 0 0 1 317.59 436.22L318.53 441.65A126.86 119.5 0 0 0 303.25 444.91Z"/>
<path fill="#9DB8E6" d="M283.87 445.85A132.7 125 0 0 1 299.17 440.33L300.92 445.58A126.86 119.5 0 0 0 286.29 450.86Z"/>
<path fill="#EE8276" d="M267.25 454.39A132.7 125 0 0 1 281.56 446.87L284.09 451.83A126.86 119.5 0 0 0 270.4 459.02Z"/>
<path fill="#EE8276" d="M252.09 465.06A132.7 125 0 0 1 265.12 455.7L268.36 460.27A126.86 119.5 0 0 0 255.91 469.22Z"/>
<path fill="#EE8276" d="M238.69 477.66A132.7 125 0 0 1 250.18 466.65L254.08 470.74A126.86 119.5 0 0 0 243.1 481.26Z"/>
<path fill="#9DB8E6" d="M227.33 491.92A132.7 125 0 0 1 237.04 479.49L241.52 483.01A126.86 119.5 0 0 0 232.24 494.9Z"/>
<path fill="#EE8276" d="M218.24 507.56A132.7 125 0 0 1 225.97 493.95L230.94 496.84A126.86 119.5 0 0 0 223.55 509.85Z"/>
<path fill="#EE8276" d="M211.61 524.27A132.7 125 0 0 1 217.21 509.76L222.56 511.95A126.86 119.5 0 0 0 217.21 525.82Z"/>
<path fill="#C4D6F0" d="M207.57 541.69A132.7 125 0 0 1 210.92 526.57L216.55 528.03A126.86 119.5 0 0 0 213.35 542.47Z"/>
<path fill="#C4D6F0" d="M206.2 559.47A132.7 125 0 0 1 207.23 544.06L213.02 544.75A126.86 119.5 0 0 0 212.04 559.47Z"/>
<path fill="#C4D6F0" d="M207.53 577.26A132.7 125 0 0 1 206.22 561.87L212.06 561.77A126.86 119.5 0 0 0 213.31 576.48Z"/>
<path fill="#F4B3AC" d="M211.53 594.68A132.7 125 0 0 1 207.91 579.63L213.68 578.75A126.86 119.5 0 0 0 217.14 593.14Z"/>
<path fill="#C4D6F0" d="M218.13 611.4A132.7 125 0 0 1 212.27 596.98L217.84 595.34A126.86 119.5 0 0 0 223.44 609.12Z"/>
<path fill="#C4D6F0" d="M227.18 627.06A132.7 125 0 0 1 219.21 613.57L224.47 611.2A126.86 119.5 0 0 0 232.1 624.09Z"/>
<path fill="#F4B3AC" d="M238.51 641.34A132.7 125 0 0 1 228.58 629.06L233.43 626.01A126.86 119.5 0 0 0 242.92 637.75Z"/>
<path fill="#F4B3AC" d="M251.88 653.97A132.7 125 0 0 1 240.19 643.14L244.53 639.47A126.86 119.5 0 0 0 255.7 649.82Z"/>
<path fill="#F4B3AC" d="M267.02 664.67A132.7 125 0 0 1 253.82 655.52L257.56 651.3A126.86 119.5 0 0 0 270.18 660.05Z"/>
<path fill="#C4D6F0" d="M283.62 673.24A132.7 125 0 0 1 269.17 665.95L272.24 661.27A126.86 119.5 0 0 0 286.05 668.24Z"/>
<path fill="#C4D6F0" d="M301.34 679.49A132.7 125 0 0 1 285.94 674.22L288.27 669.17A126.86 119.5 0 0 0 303 674.21Z"/>
<path fill="#F4B3AC" d="M319.84 683.3A132.7 125 0 0 1 303.79 680.15L305.34 674.84A126.86 119.5 0 0 0 320.67 677.86Z"/>
<path fill="#C4D6F0" d="M338.71 684.6A132.7 125 0 0 1 322.36 683.63L323.09 678.17A126.86 119.5 0 0 0 338.72 679.1Z"/>
</g>
<g font-family="Liberation Sans, sans-serif" font-size="6.4" fill="#111" text-anchor="middle">
<text transform="translate(326.79 417.81) rotate(85.4)" dy="0.4em">TRIB1</text>
<text transform="translate(305.49 420.87) rotate(77.22)" dy="0.4em">IL1B</text>
<text transform="translate(284.88 426.76) rotate(69.04)" dy="0.4em">NELL2</text>
<text transform="translate(265.37 435.35) rotate(60.86)" dy="0.4em">RHOB</text>
<text transform="translate(247.35 446.47) rotate(52.68)" dy="0.4em">DUSP1</text>
<text transform="translate(231.19 459.9) rotate(44.5)" dy="0.4em">FOS</text>
<text transform="translate(217.23 475.35) rotate(36.32)" dy="0.4em">RGCC</text>
<text transform="translate(205.74 492.51) rotate(28.14)" dy="0.4em">NFIL3</text>
<text transform="translate(196.96 511.04) rotate(19.96)" dy="0.4em">CEBPD</text>
<text transform="translate(191.07 530.56) rotate(11.78)" dy="0.4em">KDM3A</text>
<text transform="translate(188.19 550.67) rotate(3.6)" dy="0.4em">MCM6</text>
<text transform="translate(188.37 570.96) rotate(-4.58)" dy="0.4em">SATB1</text>
<text transform="translate(191.62 591.02) rotate(-12.76)" dy="0.4em">TLR5</text>
<text transform="translate(197.86 610.44) rotate(-20.94)" dy="0.4em">CYLD</text>
<text transform="translate(206.98 628.82) rotate(-29.12)" dy="0.4em">PPP2R2A</text>
<text transform="translate(218.77 645.8) rotate(-37.3)" dy="0.4em">BCL6</text>
<text transform="translate(233.02 661.03) rotate(-45.48)" dy="0.4em">PTAFR</text>
<text transform="translate(249.41 674.18) rotate(-53.66)" dy="0.4em">ILK</text>
<text transform="translate(267.63 685.01) rotate(-61.84)" dy="0.4em">PPP3CC</text>
<text transform="translate(287.3 693.29) rotate(-70.02)" dy="0.4em">HIVEP1</text>
<text transform="translate(308.02 698.84) rotate(-78.2)" dy="0.4em">PSME3</text>
<text transform="translate(329.37 701.57) rotate(-86.38)" dy="0.4em">PSME4</text>
</g>
<g font-family="Liberation Serif, serif" font-weight="bold" font-size="17.8" fill="#000">
<text x="1.1" y="14.4">A</text>
<text x="377.6" y="19">B</text>
<text x="177.2" y="425">C</text>
</g>
<defs><linearGradient id="gA" x1="0" x2="1" y1="0" y2="0"><stop offset="0" stop-color="#98B4E2"/><stop offset="0.42" stop-color="#F4F7FB"/><stop offset="1" stop-color="#DD3A3B"/></linearGradient></defs>
<rect x="13.8" y="322" width="32.4" height="6.2" fill="url(#gA)"/>
<g font-family="Liberation Sans, sans-serif" font-size="4.1" fill="#222">
<text x="30" y="319" text-anchor="middle">log2FC</text>
<text x="13.8" y="333.5" text-anchor="middle">−1</text>
<text x="45.8" y="333.5" text-anchor="middle">1</text>
<text x="54.8" y="319">Terms</text>
</g>
<g font-family="Liberation Sans, sans-serif" font-size="5" fill="#222">
<rect x="55.6" y="323" width="6" height="5.8" fill="#EA1B26" stroke="#444" stroke-width="0.3"/>
<text x="64.8" y="327.9" textLength="70.95" lengthAdjust="spacingAndGlyphs">GO_0034097_response_to_cytokin</text>
<rect x="55.6" y="331.5" width="6" height="5.8" fill="#F6A81F" stroke="#444" stroke-width="0.3"/>
<text x="64.8" y="336.4" textLength="71.7" lengthAdjust="spacingAndGlyphs">GO_0006954_inflammatory_respon</text>
<rect x="55.6" y="340" width="6" height="5.8" fill="#B4D20F" stroke="#444" stroke-width="0.3"/>
<text x="64.8" y="344.9" textLength="65.94" lengthAdjust="spacingAndGlyphs">GO_0035556_intracellular_signa</text>
<rect x="139.8" y="323" width="6" height="5.8" fill="#67B833" stroke="#444" stroke-width="0.3"/>
<text x="149" y="327.9" textLength="72.08" lengthAdjust="spacingAndGlyphs">GO_0019221_cytokine−mediated_s</text>
<rect x="139.8" y="331.5" width="6" height="5.8" fill="#6DC5A0" stroke="#444" stroke-width="0.3"/>
<text x="149" y="336.4" textLength="68.7" lengthAdjust="spacingAndGlyphs">GO_0071310_cellular_response_t</text>
<rect x="139.8" y="340" width="6" height="5.8" fill="#3DA5DD" stroke="#444" stroke-width="0.3"/>
<text x="149" y="344.9" textLength="68.7" lengthAdjust="spacingAndGlyphs">GO_0071345_cellular_response_t</text>
<rect x="224.4" y="323" width="6" height="5.8" fill="#2150A5" stroke="#444" stroke-width="0.3"/>
<text x="233.6" y="327.9" textLength="68.69" lengthAdjust="spacingAndGlyphs">GO_0007166_cell_surface_recept</text>
<rect x="224.4" y="331.5" width="6" height="5.8" fill="#7D46A5" stroke="#444" stroke-width="0.3"/>
<text x="233.6" y="336.4" textLength="75.84" lengthAdjust="spacingAndGlyphs">GO_0002764_immune_response−reg</text>
<rect x="224.4" y="340" width="6" height="5.8" fill="#E2399A" stroke="#444" stroke-width="0.3"/>
<text x="233.6" y="344.9" textLength="67.19" lengthAdjust="spacingAndGlyphs">GO_0045089_positive_regulation</text>
</g>
<defs><linearGradient id="gB" x1="0" x2="1" y1="0" y2="0"><stop offset="0" stop-color="#98B4E2"/><stop offset="0.42" stop-color="#F4F7FB"/><stop offset="1" stop-color="#DD3A3B"/></linearGradient></defs>
<rect x="402" y="333.6" width="32.4" height="6.2" fill="url(#gB)"/>
<g font-family="Liberation Sans, sans-serif" font-size="4.1" fill="#222">
<text x="418.2" y="330.6" text-anchor="middle">log2FC</text>
<text x="402" y="345.1" text-anchor="middle">−1</text>
<text x="434" y="345.1" text-anchor="middle">1</text>
<text x="443" y="330.6">Terms</text>
</g>
<g font-family="Liberation Sans, sans-serif" font-size="5" fill="#222">
<rect x="444" y="335" width="6" height="5.8" fill="#EA1B26" stroke="#444" stroke-width="0.3"/>
<text x="453.2" y="339.9" textLength="43.62" lengthAdjust="spacingAndGlyphs">GO_0005829_cytosol</text>
<rect x="444" y="343.5" width="6" height="5.8" fill="#F6A81F" stroke="#444" stroke-width="0.3"/>
<text x="453.2" y="348.4" textLength="53.15" lengthAdjust="spacingAndGlyphs">GO_0005813_centrosome</text>
<rect x="444" y="352" width="6" height="5.8" fill="#B4D20F" stroke="#444" stroke-width="0.3"/>
<text x="453.2" y="356.9" textLength="54.82" lengthAdjust="spacingAndGlyphs">GO_0030118_clathrin_coat</text>
<rect x="511.5" y="335" width="6" height="5.8" fill="#67B833" stroke="#444" stroke-width="0.3"/>
<text x="520.7" y="339.9" textLength="60.92" lengthAdjust="spacingAndGlyphs">GO_0070820_tertiary_granule</text>
<rect x="511.5" y="343.5" width="6" height="5.8" fill="#6DC5A0" stroke="#444" stroke-width="0.3"/>
<text x="520.7" y="348.4" textLength="69.2" lengthAdjust="spacingAndGlyphs">GO_0030131_clathrin_adaptor_co</text>
<rect x="511.5" y="352" width="6" height="5.8" fill="#3DA5DD" stroke="#444" stroke-width="0.3"/>
<text x="520.7" y="356.9" textLength="69.69" lengthAdjust="spacingAndGlyphs">GO_0070821_tertiary_granule_me</text>
<rect x="593.2" y="335" width="6" height="5.8" fill="#2150A5" stroke="#444" stroke-width="0.3"/>
<text x="602.4" y="339.9" textLength="71.95" lengthAdjust="spacingAndGlyphs">GO_0030667_secretory_granule_m</text>
<rect x="593.2" y="343.5" width="6" height="5.8" fill="#7D46A5" stroke="#444" stroke-width="0.3"/>
<text x="602.4" y="348.4" textLength="76.63" lengthAdjust="spacingAndGlyphs">GO_0030119_AP-type_membrane_co</text>
<rect x="593.2" y="352" width="6" height="5.8" fill="#E2399A" stroke="#444" stroke-width="0.3"/>
<text x="602.4" y="356.9" textLength="67.19" lengthAdjust="spacingAndGlyphs">GO_0008287_protein_serine/thre</text>
</g>
<defs><linearGradient id="gC" x1="0" x2="1" y1="0" y2="0"><stop offset="0" stop-color="#98B4E2"/><stop offset="0.42" stop-color="#F4F7FB"/><stop offset="1" stop-color="#DD3A3B"/></linearGradient></defs>
<rect x="187" y="729.6" width="32.4" height="6.2" fill="url(#gC)"/>
<g font-family="Liberation Sans, sans-serif" font-size="4.1" fill="#222">
<text x="203.2" y="726.6" text-anchor="middle">log2FC</text>
<text x="187" y="741.1" text-anchor="middle">−1</text>
<text x="219" y="741.1" text-anchor="middle">1</text>
<text x="228" y="726.6">Terms</text>
</g>
<g font-family="Liberation Sans, sans-serif" font-size="5" fill="#222">
<rect x="229.2" y="730.2" width="6" height="5.8" fill="#EA1B26" stroke="#444" stroke-width="0.3"/>
<text x="238.4" y="735.1" textLength="59.68" lengthAdjust="spacingAndGlyphs">GO_0019900_kinase_binding</text>
<rect x="229.2" y="738.7" width="6" height="5.8" fill="#F6A81F" stroke="#444" stroke-width="0.3"/>
<text x="238.4" y="743.6" textLength="65.56" lengthAdjust="spacingAndGlyphs">GO_0070412_R−SMAD_binding</text>
<rect x="229.2" y="747.2" width="6" height="5.8" fill="#B4D20F" stroke="#444" stroke-width="0.3"/>
<text x="238.4" y="752.1" textLength="69.95" lengthAdjust="spacingAndGlyphs">GO_0019901_protein_kinase_bind</text>
<rect x="311.3" y="730.2" width="6" height="5.8" fill="#67B833" stroke="#444" stroke-width="0.3"/>
<text x="320.5" y="735.1" textLength="68.7" lengthAdjust="spacingAndGlyphs">GO_0016504_peptidase_activator</text>
<rect x="311.3" y="738.7" width="6" height="5.8" fill="#6DC5A0" stroke="#444" stroke-width="0.3"/>
<text x="320.5" y="743.6" textLength="69.07" lengthAdjust="spacingAndGlyphs">GO_0005149_interleukin−1_recep</text>
<rect x="311.3" y="747.2" width="6" height="5.8" fill="#3DA5DD" stroke="#444" stroke-width="0.3"/>
<text x="320.5" y="752.1" textLength="71.33" lengthAdjust="spacingAndGlyphs">GO_0051019_mitogen−activated_p</text>
<rect x="395.6" y="730.2" width="6" height="5.8" fill="#2150A5" stroke="#444" stroke-width="0.3"/>
<text x="404.8" y="735.1" textLength="67.19" lengthAdjust="spacingAndGlyphs">GO_0004722_protein_serine/thre</text>
<rect x="395.6" y="738.7" width="6" height="5.8" fill="#7D46A5" stroke="#444" stroke-width="0.3"/>
<text x="404.8" y="743.6" textLength="71.83" lengthAdjust="spacingAndGlyphs">GO_1990837_sequence−specific_d</text>
<rect x="395.6" y="747.2" width="6" height="5.8" fill="#E2399A" stroke="#444" stroke-width="0.3"/>
<text x="404.8" y="752.1" textLength="74.71" lengthAdjust="spacingAndGlyphs">GO_0000979_RNA_polymerase_II_c</text>
</g>
</svg>
</body></html>
